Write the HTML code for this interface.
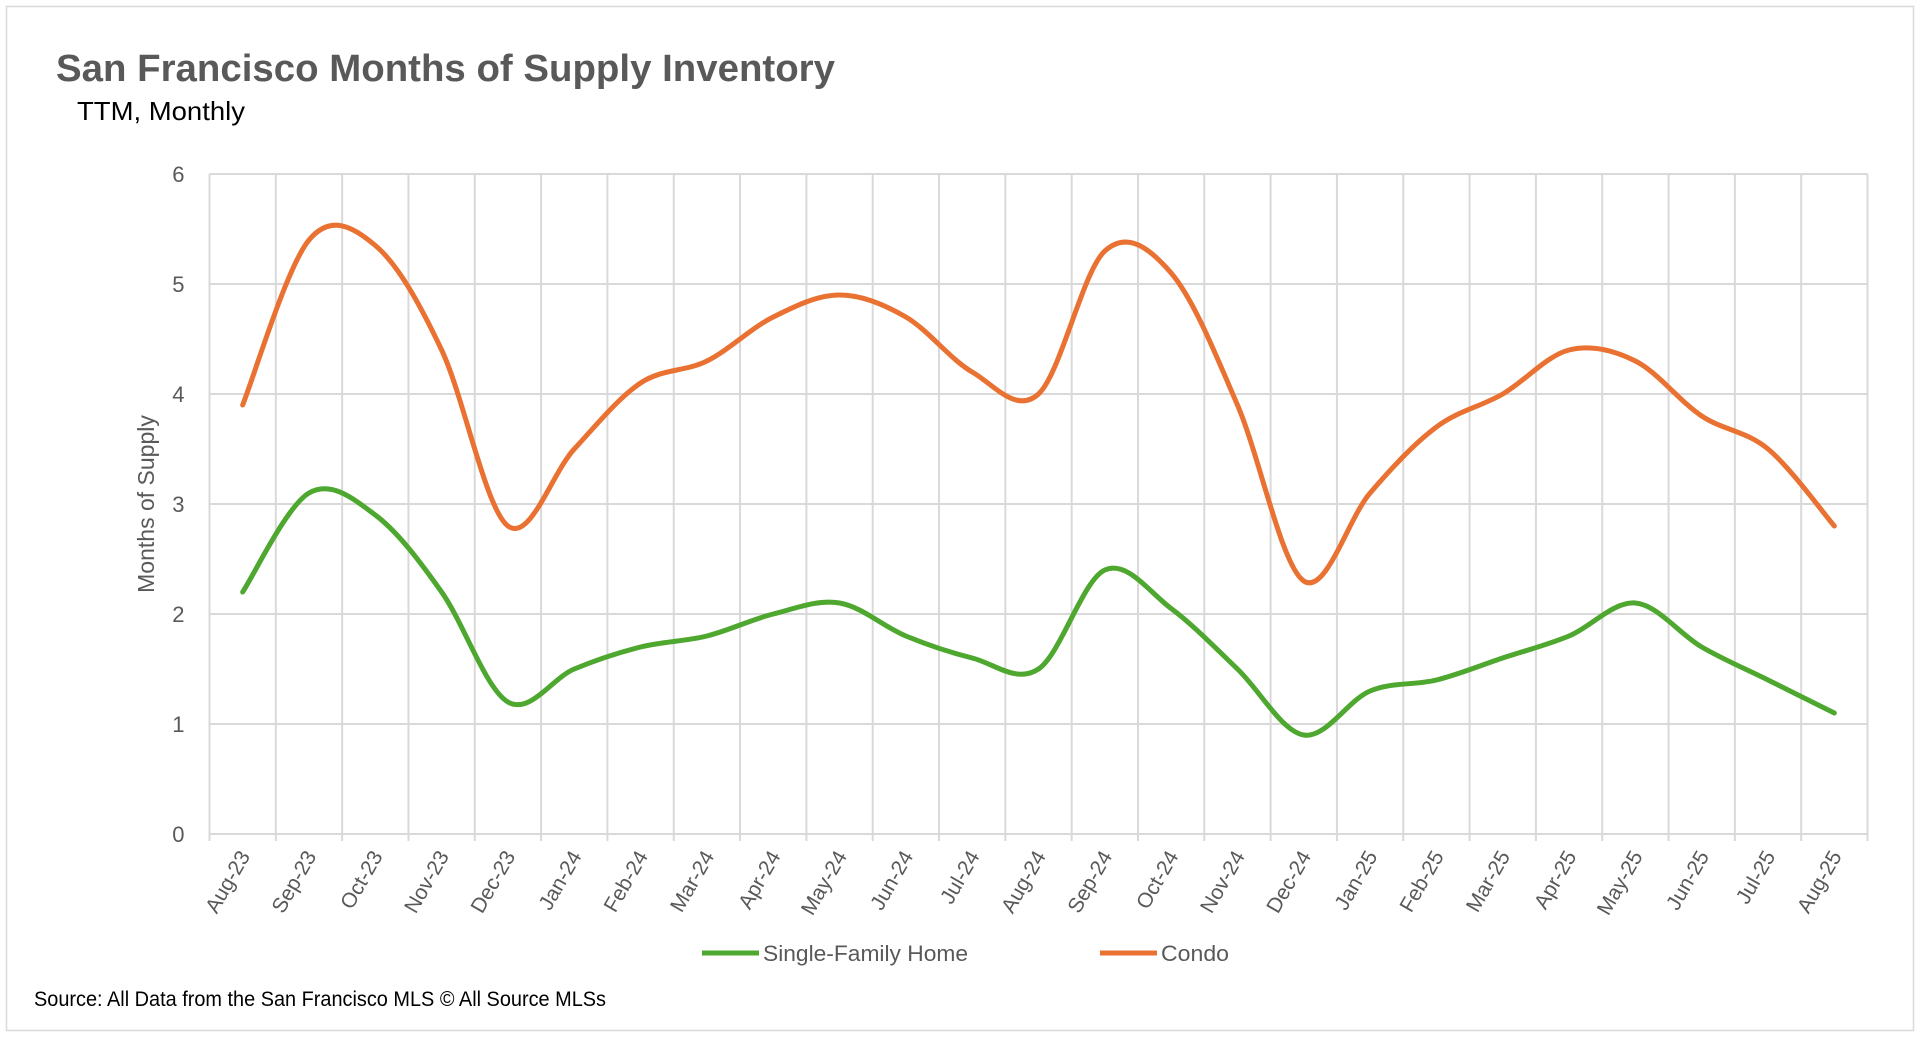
<!DOCTYPE html>
<html><head><meta charset="utf-8"><style>
html,body{margin:0;padding:0;background:#fff;}
svg{display:block;font-family:"Liberation Sans",sans-serif;}
</style></head><body>
<svg id="chart" width="1920" height="1038" viewBox="0 0 1920 1038" xmlns="http://www.w3.org/2000/svg">
<rect x="6.5" y="6.5" width="1907" height="1024" fill="#fff" stroke="#d9d9d9" stroke-width="1.5"/>
<text x="56" y="81" font-size="38" font-weight="bold" fill="#595959" textLength="779" lengthAdjust="spacingAndGlyphs">San Francisco  Months of Supply Inventory</text>
<text x="77" y="120" font-size="26" fill="#000" textLength="168" lengthAdjust="spacingAndGlyphs">TTM, Monthly</text>
<g id="grid"></g>
<g id="series"></g>
<text transform="translate(154,504) rotate(-90)" text-anchor="middle" font-size="23" fill="#595959">Months of Supply</text>
<g>
<g>
<line x1="702" y1="953" x2="759" y2="953" stroke="#4EA72E" stroke-width="5"/>
<text x="763" y="961" font-size="22" fill="#595959" textLength="205" lengthAdjust="spacingAndGlyphs">Single-Family Home</text>
</g>
<g>
<line x1="1100" y1="953" x2="1157" y2="953" stroke="#E97132" stroke-width="5"/>
<text x="1161" y="961" font-size="22" fill="#595959" textLength="68" lengthAdjust="spacingAndGlyphs">Condo</text>
</g>
</g>
<text x="34" y="1006" font-size="21" fill="#000" textLength="572" lengthAdjust="spacingAndGlyphs">Source: All Data from the San Francisco MLS © All Source MLSs</text>
</svg>
<script>
const categories = ["Aug-23","Sep-23","Oct-23","Nov-23","Dec-23","Jan-24","Feb-24","Mar-24","Apr-24","May-24","Jun-24","Jul-24","Aug-24","Sep-24","Oct-24","Nov-24","Dec-24","Jan-25","Feb-25","Mar-25","Apr-25","May-25","Jun-25","Jul-25","Aug-25"];
const sfhValues = [2.2,3.1,2.9,2.2,1.2,1.5,1.7,1.8,2.0,2.1,1.8,1.6,1.5,2.4,2.05,1.5,0.9,1.3,1.4,1.6,1.8,2.1,1.7,1.4,1.1];
const condoValues = [3.9,5.4,5.35,4.4,2.8,3.5,4.1,4.3,4.7,4.9,4.7,4.2,4.0,5.3,5.1,3.9,2.3,3.1,3.7,4.0,4.4,4.3,3.8,3.5,2.8];
const yTicks = [0,1,2,3,4,5,6];

const NS="http://www.w3.org/2000/svg";
const L=209.5,R=1867.5,T=174,B=834,YMAX=6;
const bw=(R-L)/categories.length;
const xAt=i=>L+bw*(i+0.5);
const yAt=v=>B-(v/YMAX)*(B-T);
const grid=document.getElementById('grid');
const ser=document.getElementById('series');
function mk(tag,attrs,parent){const e=document.createElementNS(NS,tag);for(const k in attrs)e.setAttribute(k,attrs[k]);parent.appendChild(e);return e;}

yTicks.forEach(v=>{
  const ln=mk('line',{x1:L,x2:R,y1:yAt(v),y2:yAt(v),stroke:'#d9d9d9','stroke-width':2},grid);
  
  
  const t=mk('text',{x:L-25,y:yAt(v)+8,'text-anchor':'end','font-size':22,fill:'#595959'},grid);
  t.textContent=v;
  
  
});
for(let i=0;i<=categories.length;i++){
  const x=L+bw*i;
  const ln=mk('line',{x1:x,x2:x,y1:T,y2:B+7,stroke:'#d9d9d9','stroke-width':2},grid);
  
  
}
categories.forEach((c,i)=>{
  const x=xAt(i)+8,y=856;
  const t=mk('text',{x:x,y:y,'text-anchor':'end','font-size':21,fill:'#595959',transform:`rotate(-60 ${x} ${y})`},grid);
  t.textContent=c;
  
  
});
function smooth(vals){
  const p=vals.map((v,i)=>[xAt(i),yAt(v)]);
  let d=`M${p[0][0]},${p[0][1]}`;
  for(let i=0;i<p.length-1;i++){
    const p0=p[i-1]||p[i],p1=p[i],p2=p[i+1],p3=p[i+2]||p[i+1];
    const c1=[p1[0]+(p2[0]-p0[0])/6,p1[1]+(p2[1]-p0[1])/6];
    const c2=[p2[0]-(p3[0]-p1[0])/6,p2[1]-(p3[1]-p1[1])/6];
    d+=`C${c1[0]},${c1[1]} ${c2[0]},${c2[1]} ${p2[0]},${p2[1]}`;
  }
  return d;
}
const s1=mk('path',{d:smooth(sfhValues),fill:'none',stroke:'#4EA72E','stroke-width':5,'stroke-linecap':'round','stroke-linejoin':'round'},ser);


const s2=mk('path',{d:smooth(condoValues),fill:'none',stroke:'#E97132','stroke-width':5,'stroke-linecap':'round','stroke-linejoin':'round'},ser);


</script>
</body></html>
